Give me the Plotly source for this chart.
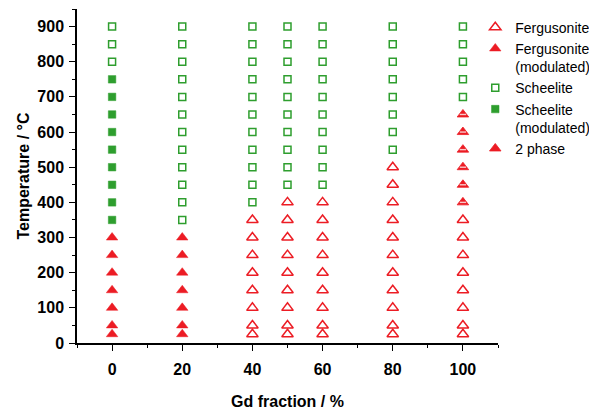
import plotly.graph_objects as go

# Gd fraction of each composition (%)
gd_fraction = [0, 20, 40, 50, 60, 80, 100]

# Temperatures at which each composition was measured (°C)
temperatures = [25, 50, 100, 150, 200, 250, 300, 350, 400, 450,
                500, 550, 600, 650, 700, 750, 800, 850, 900]

# Phase observed at each temperature, one list per composition
# F = fergusonite, FM = fergusonite (modulated), S = scheelite,
# SM = scheelite (modulated), P2 = 2 phase
phases_gd0 = ["FM"] * 7 + ["SM"] * 9 + ["S"] * 3
phases_gd20 = ["FM"] * 7 + ["S"] * 12
phases_gd40 = ["F"] * 8 + ["S"] * 11
phases_gd50 = ["F"] * 9 + ["S"] * 10
phases_gd60 = ["F"] * 9 + ["S"] * 10
phases_gd80 = ["F"] * 11 + ["S"] * 8
phases_gd100 = ["F"] * 8 + ["P2"] * 6 + ["S"] * 5

phase_columns = [phases_gd0, phases_gd20, phases_gd40, phases_gd50,
                 phases_gd60, phases_gd80, phases_gd100]

RED = "#EC1C24"
GREEN = "#2E9E2E"
FONT = "Liberation Sans, Arial, sans-serif"


def points(code):
    xs, ys = [], []
    for frac, column in zip(gd_fraction, phase_columns):
        for t, ph in zip(temperatures, column):
            if ph == code:
                xs.append(frac)
                ys.append(t)
    return xs, ys


fig = go.Figure()

series = [
    ("F", "Fergusonite", dict(symbol="triangle-up-open", size=10, color=RED,
                              line=dict(color=RED, width=1.5))),
    ("FM", "Fergusonite<br>(modulated)", dict(symbol="triangle-up", size=10, color=RED,
                                             line=dict(color=RED, width=0.5))),
    ("S", "Scheelite", dict(symbol="square-open", size=7, color=GREEN,
                            line=dict(color=GREEN, width=1.5))),
    ("SM", "Scheelite<br>(modulated)", dict(symbol="square", size=7.5, color=GREEN,
                                           line=dict(color=GREEN, width=0.5))),
    ("P2", "2 phase", dict(symbol="triangle-up", size=10, color=RED,
                           line=dict(color=RED, width=0.8))),
]

for code, name, marker in series:
    xs, ys = points(code)
    fig.add_trace(go.Scatter(x=xs, y=ys, mode="markers", name=name,
                             marker=marker, cliponaxis=False))

# pale band across the lower part of the 2-phase triangles
xs, ys = points("P2")
fig.add_trace(go.Scatter(x=xs, y=ys, mode="markers", showlegend=False,
                         hoverinfo="skip", cliponaxis=False,
                         marker=dict(symbol="line-ew", size=4.5,
                                     line=dict(color="#F8C8C8", width=1.4))))

axis_common = dict(
    showline=True, linecolor="black", linewidth=1.5, mirror=False,
    showgrid=False, zeroline=False,
    ticks="outside", ticklen=6, tickwidth=1.3, tickcolor="black",
    tickfont=dict(family=FONT, size=16, color="black", weight="bold"),
)

fig.update_xaxes(
    range=[-10, 110], tickmode="array", tickvals=[0, 20, 40, 60, 80, 100],
    minor=dict(ticks="outside", ticklen=3, tickwidth=1.2, tickcolor="black", dtick=10, tick0=-10),
    ticklabelstandoff=5,
    title=dict(text="<b>Gd fraction / %</b>", font=dict(family=FONT, size=16, color="black"),
               standoff=19),
    **axis_common,
)
fig.update_yaxes(
    range=[0, 950], tickmode="linear", tick0=0, dtick=100,
    minor=dict(ticks="outside", ticklen=3, tickwidth=1.2, tickcolor="black", dtick=50),
    ticklabelstandoff=2,
    title=dict(text="<b>Temperature / °C</b>", font=dict(family=FONT, size=16, color="black"),
               standoff=4),
    **axis_common,
)

fig.update_layout(
    width=589, height=412,
    margin=dict(l=77, r=91, t=9, b=69, autoexpand=False),
    paper_bgcolor="white", plot_bgcolor="white",
    font=dict(family=FONT, color="black"),
    showlegend=True,
    legend=dict(x=0.946, y=0.992, xanchor="left", yanchor="top",
                font=dict(family=FONT, size=14, color="black"),
                bgcolor="rgba(0,0,0,0)", valign="top",
                tracegroupgap=0, itemwidth=30),
)

fig.write_html("out.html")
